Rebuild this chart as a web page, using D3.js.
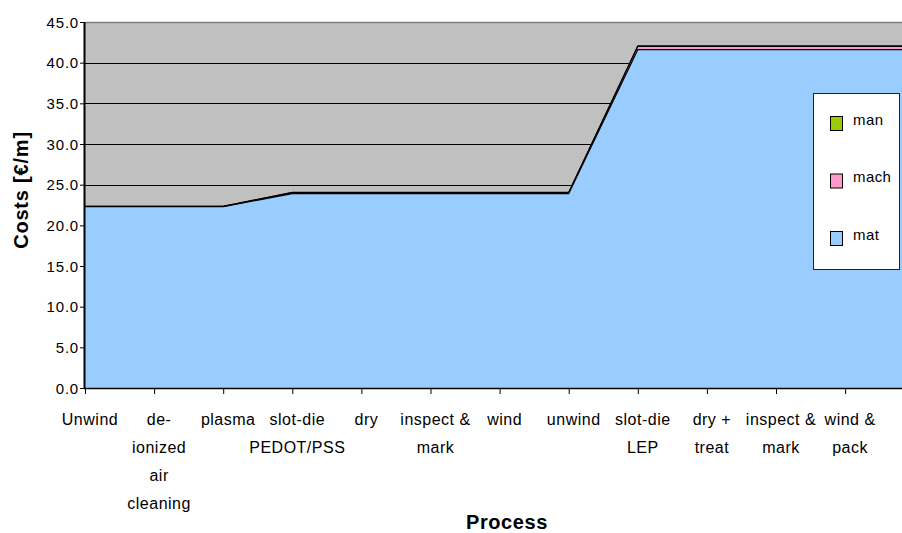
<!DOCTYPE html>
<html>
<head>
<meta charset="utf-8">
<script src="https://cdn.jsdelivr.net/npm/d3@7"></script>
<style>
  html, body { margin: 0; padding: 0; background: #fff; }
  svg { display: block; }
  text { font-family: "Liberation Sans", Arial, sans-serif; }
</style>
</head>
<body>
<svg id="chart" width="902" height="533"></svg>
<script>
// Process steps (the last, unlabeled step carries the final values to the edge)
const categories = [
  ["Unwind"],
  ["de-", "ionized", "air", "cleaning"],
  ["plasma"],
  ["slot-die", "PEDOT/PSS"],
  ["dry"],
  ["inspect &", "mark"],
  ["wind"],
  ["unwind"],
  ["slot-die", "LEP"],
  ["dry +", "treat"],
  ["inspect &", "mark"],
  ["wind &", "pack"],
  [""]
];

// Cumulative cost per process step [€/m]
const mat  = [22.3, 22.3, 22.3, 23.9, 23.9, 23.9, 23.9, 23.9, 41.6, 41.6, 41.6, 41.6, 41.6];
const mach = [0.03, 0.03, 0.03, 0.12, 0.12, 0.12, 0.12, 0.12, 0.38, 0.38, 0.38, 0.38, 0.38];
const man  = [0.02, 0.02, 0.02, 0.05, 0.05, 0.05, 0.05, 0.05, 0.10, 0.10, 0.10, 0.10, 0.10];

const seriesNames = ["mat", "mach", "man"];
const seriesColors = { mat: "#99CCFF", mach: "#FF99CC", man: "#99CC00" };
const yTicks = [0, 5, 10, 15, 20, 25, 30, 35, 40, 45];

const svg = d3.select("#chart");
const plotL = 85, plotR = 902, plotT = 22, plotB = 388;

const keys = categories.map((c, i) => i);
const x = d3.scalePoint().domain(keys).range([plotL, plotL + 69.1 * (keys.length - 1)]);
const y = d3.scaleLinear().domain([0, 45]).range([plotB, plotT]);

const rows = keys.map(i => ({ i, mat: mat[i], mach: mach[i], man: man[i] }));
const stack = d3.stack().keys(seriesNames)(rows);

svg.append("defs").append("clipPath").attr("id", "plotclip")
  .append("rect").attr("x", plotL).attr("y", plotT).attr("width", plotR - plotL).attr("height", plotB - plotT);

// plot background
svg.append("rect").attr("x", plotL).attr("y", plotT)
  .attr("width", plotR - plotL).attr("height", plotB - plotT)
  .attr("fill", "#C0C0C0");

// gridlines
svg.append("g").selectAll("line").data(yTicks.filter(v => v > 0 && v < 45)).join("line")
  .attr("x1", plotL).attr("x2", plotR)
  .attr("y1", d => Math.round(y(d)) + 0.5).attr("y2", d => Math.round(y(d)) + 0.5)
  .attr("stroke", "#000").attr("stroke-width", 1);
svg.append("line").attr("x1", plotL).attr("x2", plotR)
  .attr("y1", plotT + 0.5).attr("y2", plotT + 0.5)
  .attr("stroke", "#808080").attr("stroke-width", 1.5);

// stacked areas
const area = d3.area()
  .x(d => x(d.data.i))
  .y0(d => y(d[0]))
  .y1(d => y(d[1]));
const topLine = d3.line()
  .x(d => x(d.data.i))
  .y(d => y(d[1]));

const g = svg.append("g").attr("clip-path", "url(#plotclip)");
stack.forEach(s => {
  g.append("path").attr("d", area(s)).attr("fill", seriesColors[s.key]);
});
stack.forEach(s => {
  g.append("path").attr("d", topLine(s)).attr("fill", "none")
    .attr("stroke", "#000").attr("stroke-width", 1.1);
});

// axes
svg.append("line").attr("x1", plotL - 0.5).attr("x2", plotL - 0.5)
  .attr("y1", plotT).attr("y2", plotB + 1)
  .attr("stroke", "#000").attr("stroke-width", 2);
svg.append("line").attr("x1", plotL - 1).attr("x2", plotR)
  .attr("y1", plotB + 0.5).attr("y2", plotB + 0.5)
  .attr("stroke", "#000").attr("stroke-width", 1.5);

const yAxis = d3.axisLeft(y).tickValues(yTicks).tickSize(4).tickPadding(1)
  .tickFormat(d3.format(".1f"));
const ya = svg.append("g").attr("transform", `translate(${plotL - 1},0)`).call(yAxis);
ya.select(".domain").remove();
ya.selectAll("text").attr("font-size", 15).attr("fill", "#000")
  .attr("letter-spacing", 0.8)
  .attr("font-family", "'Liberation Sans', Arial, sans-serif").attr("dy", "0.35em");

const xa = svg.append("g").attr("transform", `translate(0,${plotB})`)
  .call(d3.axisBottom(x).tickValues(keys.slice(0, 12)).tickSize(6).tickFormat(""));
xa.select(".domain").remove();

// category labels
const lab = svg.append("g").attr("font-size", 16).attr("letter-spacing", 0.5)
  .attr("fill", "#000").attr("text-anchor", "middle");
categories.forEach((lines, i) => {
  lines.forEach((t, j) => {
    if (!t) return;
    lab.append("text").attr("x", x(i) + 5).attr("y", 425 + j * 28).text(t);
  });
});

// axis titles
svg.append("text").attr("x", 507).attr("y", 529).attr("text-anchor", "middle")
  .attr("font-size", 20).attr("letter-spacing", 0.6).attr("font-weight", "bold").text("Process");
svg.append("text").attr("transform", "translate(28,190) rotate(-90)")
  .attr("text-anchor", "middle").attr("font-size", 20).attr("letter-spacing", 0.8)
  .attr("font-weight", "bold")
  .text("Costs [€/m]");

// legend
const lg = svg.append("g");
lg.append("rect").attr("x", 813.5).attr("y", 93.5).attr("width", 86).attr("height", 176)
  .attr("fill", "#fff").attr("stroke", "#222").attr("stroke-width", 1);
const legendItems = ["man", "mach", "mat"];
legendItems.forEach((k, j) => {
  const cy = 124 + j * 57.5;
  lg.append("rect").attr("x", 830.5).attr("y", cy - 7.5).attr("width", 12).attr("height", 14)
    .attr("fill", seriesColors[k]).attr("stroke", "#000").attr("stroke-width", 1);
  lg.append("text").attr("x", 853).attr("y", cy + 0.5).attr("font-size", 15)
    .attr("letter-spacing", 0.4).text(k);
});
</script>
</body>
</html>
